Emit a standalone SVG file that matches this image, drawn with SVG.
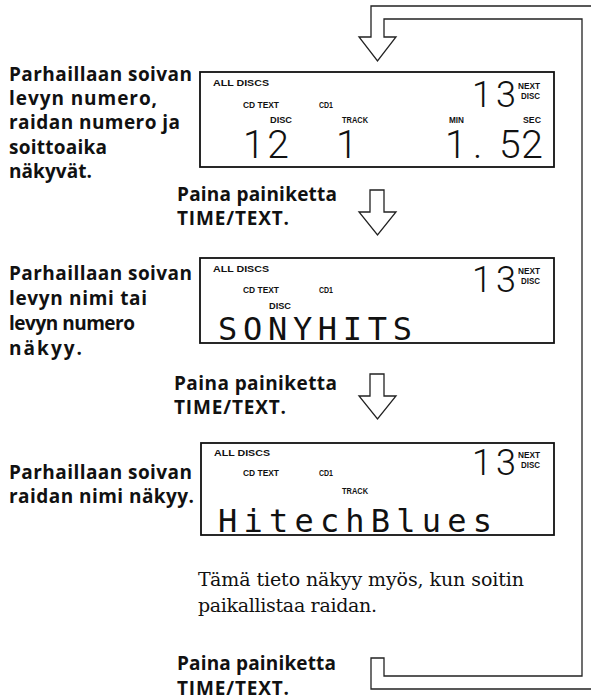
<svg xmlns="http://www.w3.org/2000/svg" width="591" height="700" viewBox="0 0 591 700">
<style>
.lbl{font-family:"Open Sans","Liberation Sans",Arial,sans-serif;font-weight:700;font-size:19px;fill:#111}
.note{font-family:"DejaVu Serif","Liberation Serif",serif;font-size:19px;fill:#111}
.box{fill:#fff;stroke:#111;stroke-width:1.8}
.sm{font-family:"Liberation Sans",Arial,sans-serif;font-weight:700;font-size:9px;fill:#111}
.big{font-family:Roboto,"Liberation Sans",sans-serif;font-weight:300;font-size:36px;fill:#111}
.big2{font-family:Roboto,"Liberation Sans",sans-serif;font-weight:300;font-size:39px;fill:#111}
.dm{font-family:"DejaVu Sans Mono","Liberation Mono",monospace;font-size:32px;fill:#111}
.con{fill:#fff;stroke:#222;stroke-width:1.3;stroke-linejoin:miter}
</style>
<rect width="591" height="700" fill="#fff"/>
<g id="connectors">
<path class="con" fill="none" d="M591,6 H371 V37 H359 L377.5,61 L396,37 H384 V19 H582 V676 H384 V658 H371 V689 H591"/>
<path class="con" d="M370,190 V212 H359 L377.5,235 L396,212 H384 V190 Z"/>
<path class="con" d="M370,374 V396 H359 L377.5,419 L396,396 H384 V374 Z"/>
</g>
<g id="desc1">
<text class="lbl" x="9" y="81" textLength="183">Parhaillaan soivan</text>
<text class="lbl" x="9" y="105" textLength="148">levyn numero,</text>
<text class="lbl" x="9" y="129" textLength="171">raidan numero ja</text>
<text class="lbl" x="9" y="154" textLength="98">soittoaika</text>
<text class="lbl" x="9" y="178" textLength="83">näkyvät.</text>
</g>
<g id="display1">
<rect class="box" x="200" y="72" width="354" height="95"/>
<text class="sm" x="213" y="86" textLength="56" lengthAdjust="spacingAndGlyphs">ALL  DISCS</text>
<text class="sm" x="243" y="108" textLength="36" lengthAdjust="spacingAndGlyphs">CD TEXT</text>
<text class="sm" x="319" y="108" textLength="14" lengthAdjust="spacingAndGlyphs">CD1</text>
<text class="big" x="472" y="107" textLength="44">13</text>
<text class="sm" x="518" y="89" textLength="22" lengthAdjust="spacingAndGlyphs">NEXT</text>
<text class="sm" x="521" y="99" textLength="19" lengthAdjust="spacingAndGlyphs">DISC</text>
<text class="sm" x="270" y="123" textLength="22" lengthAdjust="spacingAndGlyphs">DISC</text>
<text class="sm" x="342" y="123" textLength="26" lengthAdjust="spacingAndGlyphs">TRACK</text>
<text class="sm" x="449" y="123" textLength="15" lengthAdjust="spacingAndGlyphs">MIN</text>
<text class="sm" x="523" y="123" textLength="18" lengthAdjust="spacingAndGlyphs">SEC</text>
<text class="big2" x="243" y="158" textLength="46">12</text>
<text class="big2" x="336" y="158">1</text>
<text class="big2" x="445" y="158">1</text>
<text class="big2" x="473" y="158">.</text>
<text class="big2" x="499" y="158" textLength="44">52</text>
</g>
<g id="step1">
<text class="lbl" x="177" y="201" textLength="160">Paina painiketta</text>
<text class="lbl" x="177" y="225" textLength="112">TIME/TEXT.</text>
</g>
<g id="desc2">
<text class="lbl" x="9" y="280" textLength="183">Parhaillaan soivan</text>
<text class="lbl" x="9" y="305" textLength="138">levyn nimi tai</text>
<text class="lbl" x="9" y="330" textLength="126">levyn numero</text>
<text class="lbl" x="9" y="355" textLength="73">näkyy.</text>
</g>
<g id="display2">
<rect class="box" x="200" y="258" width="354" height="85"/>
<text class="sm" x="213" y="272" textLength="56" lengthAdjust="spacingAndGlyphs">ALL  DISCS</text>
<text class="sm" x="243" y="293" textLength="36" lengthAdjust="spacingAndGlyphs">CD TEXT</text>
<text class="sm" x="319" y="293" textLength="14" lengthAdjust="spacingAndGlyphs">CD1</text>
<text class="big" x="472" y="292" textLength="44">13</text>
<text class="sm" x="518" y="274" textLength="22" lengthAdjust="spacingAndGlyphs">NEXT</text>
<text class="sm" x="521" y="284" textLength="19" lengthAdjust="spacingAndGlyphs">DISC</text>
<text class="sm" x="269" y="309" textLength="22" lengthAdjust="spacingAndGlyphs">DISC</text>
<text class="dm" x="218" y="340" textLength="194">SONYHITS</text>
</g>
<g id="step2">
<text class="lbl" x="174" y="390" textLength="163">Paina painiketta</text>
<text class="lbl" x="174" y="414" textLength="112">TIME/TEXT.</text>
</g>
<g id="desc3">
<text class="lbl" x="9" y="479" textLength="183">Parhaillaan soivan</text>
<text class="lbl" x="9" y="503" textLength="185">raidan nimi näkyy.</text>
</g>
<g id="display3">
<rect class="box" x="201" y="443" width="353" height="92"/>
<text class="sm" x="214" y="456" textLength="56" lengthAdjust="spacingAndGlyphs">ALL  DISCS</text>
<text class="sm" x="243" y="476" textLength="36" lengthAdjust="spacingAndGlyphs">CD TEXT</text>
<text class="sm" x="319" y="476" textLength="14" lengthAdjust="spacingAndGlyphs">CD1</text>
<text class="big" x="472" y="475" textLength="44">13</text>
<text class="sm" x="518" y="458" textLength="22" lengthAdjust="spacingAndGlyphs">NEXT</text>
<text class="sm" x="521" y="468" textLength="19" lengthAdjust="spacingAndGlyphs">DISC</text>
<text class="sm" x="342" y="494" textLength="26" lengthAdjust="spacingAndGlyphs">TRACK</text>
<text class="dm" x="218" y="532" textLength="274">HitechBlues</text>
</g>
<g id="note">
<text class="note" x="198" y="586" textLength="326">Tämä tieto näkyy myös, kun soitin</text>
<text class="note" x="198" y="612" textLength="179">paikallistaa raidan.</text>
</g>
<g id="step3">
<text class="lbl" x="177" y="670" textLength="159">Paina painiketta</text>
<text class="lbl" x="177" y="695" textLength="112">TIME/TEXT.</text>
</g>
</svg>
